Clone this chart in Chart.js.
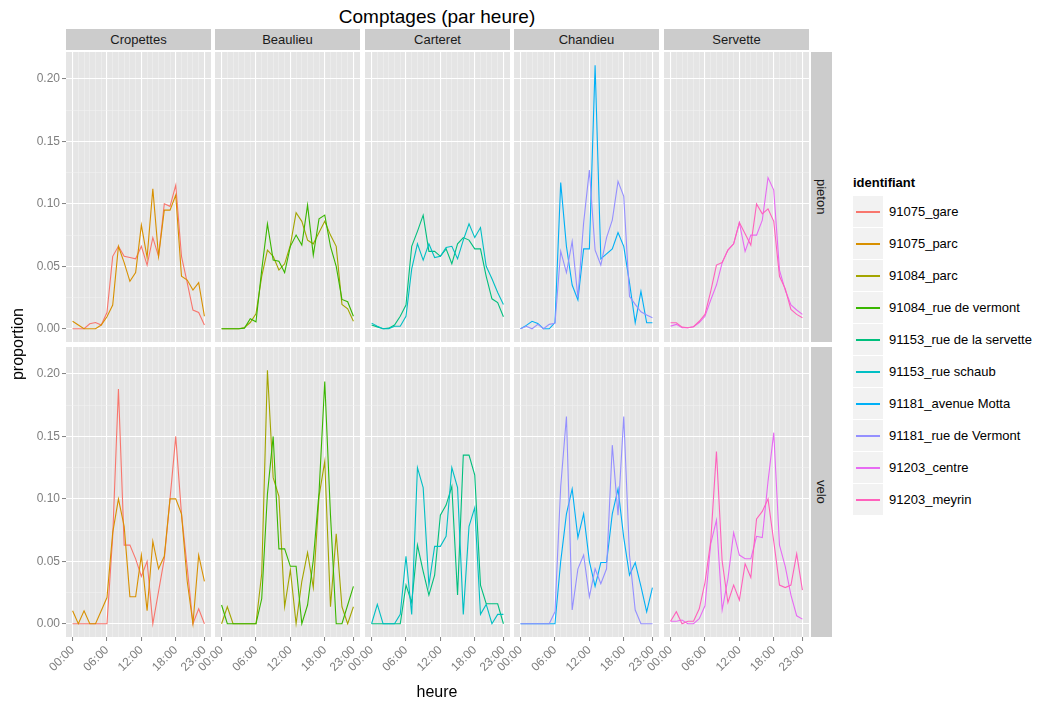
<!DOCTYPE html>
<html>
<head>
<meta charset="utf-8">
<script src="https://cdn.jsdelivr.net/npm/chart.js@4.4.0/dist/chart.umd.min.js"></script>
<style>
  html, body { margin: 0; padding: 0; background: #ffffff; }
  body { width: 1041px; height: 705px; position: relative; overflow: hidden;
         font-family: "Liberation Sans", Arial, sans-serif; }
  canvas { position: absolute; }
  .txt { position: absolute; white-space: nowrap; }
  .strip { position: absolute; background: #CCCCCC; color: #1A1A1A; font-size: 13px;
           display: flex; align-items: center; justify-content: center; }
  .vstrip { writing-mode: vertical-rl; }
  .key { position: absolute; background: #F2F2F2; }
  .keyline { position: absolute; left: 3px; right: 3px; top: 15px; height: 1.5px; }
</style>
</head>
<body>
<script>
// hours of the day (x values) and the axis ticks
const hours = [0, 1, 2, 3, 4, 5, 6, 7, 8, 9, 10, 11, 12, 13, 14, 15, 16, 17, 18, 19, 20, 21, 22, 23];
const xTickHours = [0, 6, 12, 18, 23];
const xTickLabels = ["00:00", "06:00", "12:00", "18:00", "23:00"];
const yTicks = [0, 0.05, 0.10, 0.15, 0.20];

const stations = ["Cropettes", "Beaulieu", "Carteret", "Chandieu", "Servette"];
const modes = ["pieton", "velo"];
const identifiants = ["91075_gare", "91075_parc", "91084_parc", "91084_rue de vermont",
  "91153_rue de la servette", "91153_rue schaub", "91181_avenue Motta",
  "91181_rue de Vermont", "91203_centre", "91203_meyrin"];
const colours = ["#F8766D", "#D89000", "#A3A500", "#39B600", "#00BF7D",
  "#00BFC4", "#00B0F6", "#9590FF", "#E76BF3", "#FF62BC"];

// hourly share of counts, per counter and mode
const gare_pieton      = [0, 0, 0, 0.004, 0.005, 0.003, 0.013, 0.058, 0.066, 0.058, 0.057, 0.056, 0.066, 0.051, 0.073, 0.058, 0.100, 0.098, 0.115, 0.058, 0.037, 0.015, 0.013, 0.003];
const parcC_pieton     = [0.006, 0.003, 0, 0, 0, 0.003, 0.0096, 0.019, 0.066, 0.053, 0.038, 0.045, 0.083, 0.057, 0.112, 0.058, 0.095, 0.095, 0.107, 0.042, 0.039, 0.031, 0.037, 0.010];
const gare_velo        = [0, 0, 0, 0, 0, 0, 0, 0.070, 0.188, 0.063, 0.063, 0.052, 0.038, 0.050, 0, 0.026, 0.052, 0.100, 0.150, 0.088, 0.045, 0, 0.012, 0];
const parcC_velo       = [0.0104, 0, 0.0104, 0, 0, 0.0104, 0.021, 0.073, 0.100, 0.078, 0.0216, 0.0216, 0.055, 0.0104, 0.066, 0.044, 0.054, 0.100, 0.100, 0.088, 0.034, 0, 0.055, 0.034];

const parcB_pieton     = [0, 0, 0, 0, 0.001, 0.005, 0.012, 0.042, 0.063, 0.058, 0.047, 0.052, 0.067, 0.093, 0.086, 0.071, 0.068, 0.077, 0.086, 0.075, 0.066, 0.0195, 0.016, 0.006];
const vermontB_pieton  = [0, 0, 0, 0, 0.0005, 0.008, 0.0056, 0.047, 0.084, 0.055, 0.054, 0.045, 0.066, 0.075, 0.067, 0.099, 0.059, 0.088, 0.091, 0.066, 0.050, 0.0235, 0.0216, 0.010];
const parcB_velo       = [0, 0.0136, 0, 0, 0, 0, 0, 0.040, 0.203, 0.117, 0.102, 0.0136, 0.043, 0, 0.034, 0.057, 0.029, 0.102, 0.130, 0.0136, 0.072, 0.0136, 0, 0.0136];
const vermontB_velo    = [0.015, 0, 0, 0, 0, 0, 0, 0.020, 0.104, 0.150, 0.060, 0.060, 0.046, 0.046, 0, 0.015, 0.051, 0.105, 0.194, 0.087, 0, 0, 0.015, 0.030];

const servette_pieton  = [0.003, 0.0015, 0, 0.0005, 0.003, 0.010, 0.019, 0.066, 0.078, 0.091, 0.062, 0.062, 0.058, 0.064, 0.052, 0.068, 0.073, 0.071, 0.064, 0.064, 0.042, 0.024, 0.021, 0.0096];
const schaub_pieton    = [0.0045, 0.002, 0, 0, 0.002, 0.002, 0.010, 0.048, 0.068, 0.055, 0.068, 0.057, 0.058, 0.065, 0.066, 0.056, 0.071, 0.084, 0.073, 0.081, 0.050, 0.040, 0.029, 0.0195];
const servette_velo    = [0, 0, 0, 0, 0, 0, 0.031, 0.017, 0.063, 0.042, 0.023, 0.039, 0.087, 0.095, 0.110, 0.023, 0.135, 0.135, 0.119, 0.031, 0.016, 0.016, 0.016, 0];
const schaub_velo      = [0, 0.0155, 0, 0, 0, 0.0075, 0.054, 0.0075, 0.125, 0.109, 0.031, 0.062, 0.062, 0.070, 0.125, 0.109, 0.0075, 0.078, 0.093, 0.0075, 0.0155, 0, 0.0075, 0.0075];

const motta_pieton     = [0, 0.0027, 0.006, 0.0043, 0, 0, 0.005, 0.117, 0.066, 0.035, 0.023, 0.064, 0.064, 0.211, 0.056, 0.060, 0.064, 0.077, 0.066, 0.037, 0.0048, 0.030, 0.0048, 0.0048];
const vermontC_pieton  = [0, 0.002, 0, 0.0035, 0, 0.0035, 0.0043, 0.062, 0.045, 0.070, 0.025, 0.085, 0.127, 0.063, 0.051, 0.073, 0.087, 0.118, 0.106, 0.026, 0.0195, 0.0136, 0.011, 0.0088];
const motta_velo       = [0, 0, 0, 0, 0, 0, 0, 0.050, 0.088, 0.108, 0.069, 0.088, 0.050, 0.030, 0.049, 0.049, 0.088, 0.108, 0.069, 0.039, 0.049, 0.030, 0.0096, 0.029];
const vermontC_velo    = [0, 0, 0, 0, 0, 0, 0.0096, 0.110, 0.166, 0.011, 0.044, 0.055, 0.0216, 0.044, 0.032, 0.044, 0.143, 0.087, 0.166, 0.055, 0.011, 0, 0, 0];

const centre_pieton    = [0.0021, 0.0035, 0.0008, 0.0008, 0.0016, 0.005, 0.010, 0.023, 0.035, 0.053, 0.063, 0.068, 0.085, 0.062, 0.075, 0.075, 0.087, 0.121, 0.111, 0.047, 0.031, 0.019, 0.015, 0.0115];
const meyrin_pieton    = [0.0048, 0.0048, 0.0013, 0.0008, 0.0016, 0.006, 0.0115, 0.030, 0.051, 0.053, 0.063, 0.068, 0.085, 0.076, 0.067, 0.100, 0.092, 0.096, 0.086, 0.042, 0.032, 0.0155, 0.0115, 0.0088];
const centre_velo      = [0.002, 0.002, 0.003, 0, 0, 0.004, 0.0144, 0.064, 0.083, 0.011, 0.036, 0.073, 0.055, 0.052, 0.052, 0.070, 0.069, 0.114, 0.153, 0.063, 0.046, 0.023, 0.0064, 0.0037];
const meyrin_velo      = [0.002, 0.0096, 0, 0.002, 0.002, 0.012, 0.033, 0.066, 0.138, 0.050, 0.017, 0.031, 0.019, 0.048, 0.037, 0.084, 0.090, 0.100, 0.066, 0.031, 0.029, 0.031, 0.056, 0.027];

// per identifiant: [pieton, velo]
const seriesById = [
  [gare_pieton, gare_velo], [parcC_pieton, parcC_velo],
  [parcB_pieton, parcB_velo], [vermontB_pieton, vermontB_velo],
  [servette_pieton, servette_velo], [schaub_pieton, schaub_velo],
  [motta_pieton, motta_velo], [vermontC_pieton, vermontC_velo],
  [centre_pieton, centre_velo], [meyrin_pieton, meyrin_velo]
];

// ---- layout of the facet grid ----
const FONT = '"Liberation Sans", Arial, sans-serif';
const panelLeft = [66, 215, 365, 514, 664];
const panelTop = [52, 347];
const PW = 145, PH = 290;
const Y_MIN = -0.0106, Y_MAX = 0.2216;
const X_MIN = -1.15, X_MAX = 24.15;

const yGrid = [];
for (let i = 0; i < yTicks.length; i++) {
  yGrid.push(yTicks[i]);
  if (i < yTicks.length - 1) yGrid.push((yTicks[i] + yTicks[i + 1]) / 2);
}
const isMajorY = v => yTicks.some(t => Math.abs(t - v) < 1e-9);
const isMajorX = v => xTickHours.indexOf(v) >= 0;

const panelBg = {
  id: 'panelBg',
  beforeDraw(chart) {
    const a = chart.chartArea, ctx = chart.ctx;
    ctx.save();
    ctx.fillStyle = '#E5E5E5';
    ctx.fillRect(a.left, a.top, a.right - a.left, a.bottom - a.top);
    ctx.restore();
  }
};

function addText(text, css) {
  const d = document.createElement('div');
  d.className = 'txt';
  d.textContent = text;
  Object.assign(d.style, css);
  document.body.appendChild(d);
  return d;
}

function makePanel(r, c) {
  // left margin: y axis on the first column, room for the slanted
  // hour labels on the bottom row of the other columns
  const LA = c === 0 ? 66 : (r === 1 ? 40 : 0);
  const BA = r === 1 ? 68 : 0;      // room for the x axis
  const w = PW + LA, h = PH + BA;
  const cv = document.createElement('canvas');
  cv.width = w; cv.height = h;
  cv.style.left = (panelLeft[c] - LA) + 'px';
  cv.style.top = panelTop[r] + 'px';
  cv.style.width = w + 'px'; cv.style.height = h + 'px';
  document.body.appendChild(cv);

  const ids = [2 * c, 2 * c + 1];
  const datasets = ids.map((id, k) => ({
    label: identifiants[id],
    data: hours.map((hr, i) => ({ x: hr, y: seriesById[id][r][i] })),
    borderColor: colours[id],
    backgroundColor: colours[id],
    borderWidth: 1.1,
    pointRadius: 0,
    tension: 0,
    fill: false,
    order: 1 - k
  }));

  new Chart(cv, {
    type: 'line',
    data: { datasets },
    options: {
      responsive: false,
      animation: false,
      devicePixelRatio: 1,
      layout: { padding: 0 },
      events: [],
      plugins: { legend: { display: false }, tooltip: { enabled: false } },
      scales: {
        x: {
          type: 'linear', min: X_MIN, max: X_MAX,
          afterBuildTicks: s => { s.ticks = hours.map(v => ({ value: v })); },
          afterFit: s => { s.height = BA; s.paddingLeft = 0; s.paddingRight = 0; },
          border: { display: false },
          grid: {
            color: ctx => isMajorX(ctx.tick.value) ? '#FFFFFF' : '#F2F2F2',
            lineWidth: ctx => isMajorX(ctx.tick.value) ? 1.1 : 0.55,
            drawTicks: r === 1,
            tickLength: 4,
            tickWidth: 1,
            tickColor: ctx => isMajorX(ctx.tick.value) ? '#7F7F7F' : 'rgba(0,0,0,0)'
          },
          ticks: {
            display: r === 1, autoSkip: false, minRotation: 45, maxRotation: 45,
            padding: 2, color: '#7F7F7F', font: { family: FONT, size: 12 },
            callback: v => { const k = xTickHours.indexOf(v); return k >= 0 ? xTickLabels[k] : ''; }
          }
        },
        y: {
          type: 'linear', min: Y_MIN, max: Y_MAX,
          afterBuildTicks: s => { s.ticks = yGrid.map(v => ({ value: v })); },
          afterFit: s => { s.width = LA; s.paddingTop = 0; s.paddingBottom = 0; },
          border: { display: false },
          grid: {
            color: ctx => isMajorY(ctx.tick.value) ? '#FFFFFF' : '#F2F2F2',
            lineWidth: ctx => isMajorY(ctx.tick.value) ? 1.1 : 0.55,
            drawTicks: c === 0,
            tickLength: 4,
            tickWidth: 1,
            tickColor: ctx => isMajorY(ctx.tick.value) ? '#7F7F7F' : 'rgba(0,0,0,0)'
          },
          ticks: {
            display: c === 0, autoSkip: false, padding: 2,
            color: '#7F7F7F', font: { family: FONT, size: 12 },
            callback: v => isMajorY(v) ? v.toFixed(2) : ''
          }
        }
      }
    },
    plugins: [panelBg]
  });
}

for (let r = 0; r < modes.length; r++)
  for (let c = 0; c < stations.length; c++) makePanel(r, c);

// facet strips
stations.forEach((s, c) => {
  const d = document.createElement('div');
  d.className = 'strip';
  d.textContent = s;
  Object.assign(d.style, { left: panelLeft[c] + 'px', top: '29px', width: PW + 'px', height: '21px' });
  document.body.appendChild(d);
});
modes.forEach((m, r) => {
  const d = document.createElement('div');
  d.className = 'strip';
  const span = document.createElement('span');
  span.className = 'vstrip';
  span.textContent = m;
  d.appendChild(span);
  Object.assign(d.style, { left: '811px', top: panelTop[r] + 'px', width: '21px', height: PH + 'px' });
  document.body.appendChild(d);
});

// titles
addText('Comptages (par heure)', { left: '337px', top: '6px', width: '200px', textAlign: 'center',
  fontSize: '19px', color: '#000', display: 'flex', justifyContent: 'center' });
addText('heure', { left: '387px', top: '683px', width: '100px', textAlign: 'center', fontSize: '16px', color: '#000' });
addText('proportion', { left: '-32px', top: '335px', width: '100px', textAlign: 'center',
  fontSize: '16px', color: '#000', transform: 'rotate(-90deg)' });

// legend
addText('identifiant', { left: '853px', top: '175px', fontSize: '13px', fontWeight: 'bold', color: '#000' });
identifiants.forEach((id, i) => {
  const top = 196 + 32 * i;
  const k = document.createElement('div');
  k.className = 'key';
  Object.assign(k.style, { left: '853px', top: top + 'px', width: '30px', height: '31px' });
  const ln = document.createElement('div');
  ln.className = 'keyline';
  ln.style.background = colours[i];
  k.appendChild(ln);
  document.body.appendChild(k);
  addText(id, { left: '889px', top: (top + 8) + 'px', fontSize: '13px', color: '#000' });
});
</script>
</body>
</html>
